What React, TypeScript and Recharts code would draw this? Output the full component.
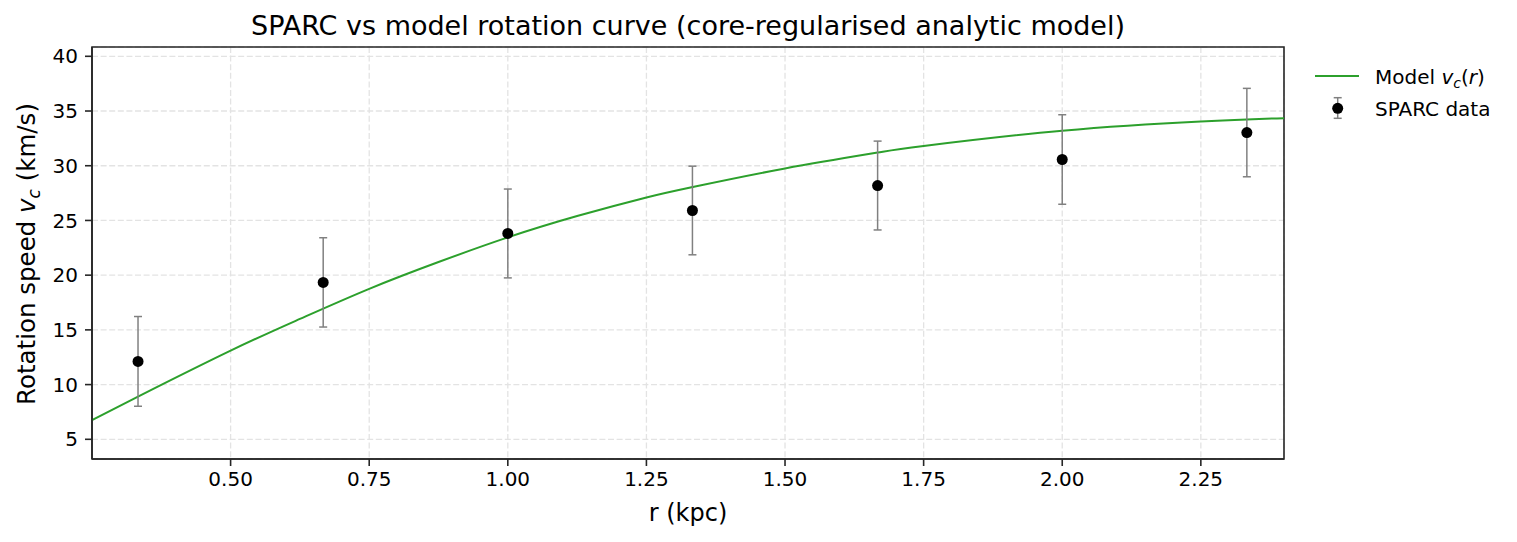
import React from "react";
import {
  CartesianGrid,
  ComposedChart,
  Customized,
  ErrorBar,
  Legend,
  Line,
  ReferenceArea,
  Scatter,
  XAxis,
  YAxis,
} from "recharts";

// model curve
const modelR = [0.25, 0.333, 0.5, 0.625, 0.75, 0.875, 1.0, 1.125, 1.25, 1.333, 1.5, 1.667, 1.75, 2.0, 2.25, 2.4];
const modelV = [6.76, 8.9, 13.1, 16.0, 18.75, 21.2, 23.45, 25.4, 27.1, 28.05, 29.75, 31.2, 31.8, 33.2, 34.05, 34.35];

// SPARC points
const sparcR = [0.333, 0.667, 1.0, 1.333, 1.667, 2.0, 2.333];
const sparcV = [12.12, 19.34, 23.81, 25.91, 28.19, 30.57, 33.03];
const sparcErr = [4.1, 4.08, 4.06, 4.05, 4.06, 4.09, 4.04];

const xTicks = [0.5, 0.75, 1.0, 1.25, 1.5, 1.75, 2.0, 2.25];
const yTicks = [5, 10, 15, 20, 25, 30, 35, 40];

const X_DOMAIN: [number, number] = [0.25, 2.4];
const Y_DOMAIN: [number, number] = [3.2, 40.85];

const GREEN = "#2ca02c";
const ERR = "#808080";
const INK = "#262626";
const FONT = "DejaVu Sans";

const model = modelR.map((r, i) => ({ r, v: modelV[i] }));
const sparc = sparcR.map((r, i) => ({ r, v: sparcV[i], err: sparcErr[i] }));

const Dot = (p: any) => <circle cx={p.cx} cy={p.cy} r={5.5} fill="#000" />;

const LegendBox = () => (
  <svg width={227} height={80} style={{ fontFamily: FONT }}>
    <line x1={25} x2={69} y1={21} y2={21} stroke={GREEN} strokeWidth={2} />
    <text x={85} y={29} fontSize={20} fill="#000">
      Model <tspan fontStyle="italic">v</tspan>
      <tspan fontStyle="italic" fontSize={14} dy={4}>c</tspan>
      <tspan dy={-4}>(</tspan>
      <tspan fontStyle="italic">r</tspan>)
    </text>
    <line x1={47.7} x2={47.7} y1={42.7} y2={63.3} stroke={ERR} strokeWidth={1.5} />
    <line x1={43.7} x2={51.7} y1={42.7} y2={42.7} stroke={ERR} strokeWidth={1.5} />
    <line x1={43.7} x2={51.7} y1={63.3} y2={63.3} stroke={ERR} strokeWidth={1.5} />
    <circle cx={47.7} cy={53.3} r={5.5} fill="#000" />
    <text x={85} y={61} fontSize={20} fill="#000">
      SPARC data
    </text>
  </svg>
);

const Title = () => (
  <text x={688} y={34.5} textAnchor="middle" fontSize={27} fill="#000" fontFamily={FONT}>
    SPARC vs model rotation curve (core-regularised analytic model)
  </text>
);

const XLabel = () => (
  <text x={688} y={521} textAnchor="middle" fontSize={24} fill="#000" fontFamily={FONT}>
    r (kpc)
  </text>
);

const YLabel = () => (
  <text
    x={35}
    y={254}
    transform="rotate(-90, 35, 254)"
    textAnchor="middle"
    fontSize={24.5}
    fill="#000"
    fontFamily={FONT}
  >
    Rotation speed <tspan fontStyle="italic">v</tspan>
    <tspan fontStyle="italic" fontSize={17} dy={5}>c</tspan>
    <tspan dy={-5}> (km/s)</tspan>
  </text>
);

export default function App() {
  return (
    <div style={{ position: "absolute", left: 0, top: 0, width: 1517, height: 542, background: "#fff" }}>
      <ComposedChart
        width={1517}
        height={542}
        margin={{ top: 47, right: 233, bottom: 23, left: 0 }}
        style={{ fontFamily: FONT }}
      >
        <CartesianGrid stroke="#e3e3e3" strokeDasharray="6 2.6" strokeWidth={1.3} />
        <XAxis
          dataKey="r"
          type="number"
          domain={X_DOMAIN}
          ticks={xTicks}
          allowDataOverflow
          height={60}
          tickSize={7}
          tickMargin={6}
          tickFormatter={(v: number) => v.toFixed(2)}
          tick={{ fill: "#000", fontSize: 20, fontFamily: FONT }}
          tickLine={{ stroke: INK, strokeWidth: 1.6 }}
          axisLine={{ stroke: INK, strokeWidth: 1.6 }}
          label={XLabel}
        />
        <YAxis
          type="number"
          domain={Y_DOMAIN}
          ticks={yTicks}
          allowDataOverflow
          width={92}
          tickSize={7}
          tickMargin={7}
          tick={{ fill: "#000", fontSize: 20, fontFamily: FONT }}
          tickLine={{ stroke: INK, strokeWidth: 1.6 }}
          axisLine={{ stroke: INK, strokeWidth: 1.6 }}
          label={YLabel}
        />
        <Line
          data={model}
          dataKey="v"
          type="natural"
          stroke={GREEN}
          strokeWidth={2}
          dot={false}
          activeDot={false}
          isAnimationActive={false}
        />
        <Scatter data={sparc} dataKey="v" shape={Dot} isAnimationActive={false}>
          <ErrorBar dataKey="err" direction="y" width={4} stroke={ERR} strokeWidth={1.5} />
        </Scatter>
        <ReferenceArea
          x1={X_DOMAIN[0]}
          x2={X_DOMAIN[1]}
          y1={Y_DOMAIN[0]}
          y2={Y_DOMAIN[1]}
          fill="none"
          stroke={INK}
          strokeWidth={1.6}
          ifOverflow="visible"
        />
        <Legend
          layout="horizontal"
          align="center"
          verticalAlign="middle"
          content={LegendBox}
          wrapperStyle={{ position: "absolute", left: 1290, top: 55, width: 227, height: 80 }}
        />
        <Customized component={Title} />
      </ComposedChart>
    </div>
  );
}
